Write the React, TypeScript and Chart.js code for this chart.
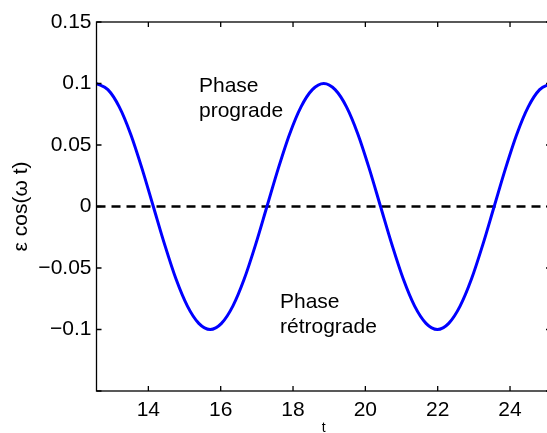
import React, { useEffect, useRef } from "react";
import { Chart, registerables } from "chart.js";

Chart.register(...registerables);

// time samples (t) and values of ε cos(ω t)
const tValues = [
  12.566, 12.881, 13.195, 13.509, 13.823, 14.137, 14.451, 14.765, 15.08, 15.394,
  15.708, 16.022, 16.336, 16.65, 16.965, 17.279, 17.593, 17.907, 18.221, 18.535,
  18.85, 19.164, 19.478, 19.792, 20.106, 20.42, 20.735, 21.049, 21.363, 21.677,
  21.991, 22.305, 22.619, 22.934, 23.248, 23.562, 23.876, 24.19, 24.504, 24.819,
  25.133,
];
const yValues = [
  0.1, 0.095, 0.081, 0.059, 0.031, 0, -0.031, -0.059, -0.081, -0.095,
  -0.1, -0.095, -0.081, -0.059, -0.031, 0, 0.031, 0.059, 0.081, 0.095,
  0.1, 0.095, 0.081, 0.059, 0.031, 0, -0.031, -0.059, -0.081, -0.095,
  -0.1, -0.095, -0.081, -0.059, -0.031, 0, 0.031, 0.059, 0.081, 0.095,
  0.1,
];
const zeroLineT = [12.566, 25.133];
const zeroLineY = [0, 0];
const xTicks = [14, 16, 18, 20, 22, 24];
const yTicks = [-0.15, -0.1, -0.05, 0, 0.05, 0.1, 0.15];
const yTickLabels = ["", "−0.1", "−0.05", "0", "0.05", "0.1", "0.15"];

const annotationLines = [
  ["Phase", "prograde"],
  ["Phase", "rétrograde"],
];
const annotationAnchors = [
  { t: 15.4, y: 0.0927 },
  { t: 17.64, y: -0.0825 },
];

const FONT = "'Liberation Sans', Arial, Helvetica, sans-serif";

export default function App() {
  const ref = useRef<HTMLCanvasElement | null>(null);

  useEffect(() => {
    const canvas = ref.current;
    if (!canvas) return;

    const framePlugin = {
      id: "frame",
      afterDatasetsDraw(chart: any) {
        const { ctx, chartArea } = chart;
        const { left, right, top, bottom } = chartArea;
        const xs = chart.scales.x;
        const ys = chart.scales.y;
        ctx.save();
        ctx.strokeStyle = "#000";
        ctx.lineWidth = 1.3;
        ctx.strokeRect(left, top, right - left, bottom - top);
        const tl = 5;
        ctx.beginPath();
        xTicks.forEach((v) => {
          const px = xs.getPixelForValue(v);
          ctx.moveTo(px, bottom);
          ctx.lineTo(px, bottom - tl);
          ctx.moveTo(px, top);
          ctx.lineTo(px, top + tl);
        });
        yTicks.forEach((v) => {
          const py = ys.getPixelForValue(v);
          ctx.moveTo(left, py);
          ctx.lineTo(left + tl, py);
          ctx.moveTo(right, py);
          ctx.lineTo(right - tl, py);
        });
        ctx.stroke();

        // annotations
        ctx.fillStyle = "#000";
        ctx.font = `21px ${FONT}`;
        ctx.textAlign = "left";
        ctx.textBaseline = "alphabetic";
        annotationLines.forEach((lines, i) => {
          const a = annotationAnchors[i];
          const px = xs.getPixelForValue(a.t);
          const py = ys.getPixelForValue(a.y);
          lines.forEach((s, j) => ctx.fillText(s, px, py + j * 25));
        });
        ctx.restore();
      },
    };

    const chart = new Chart(canvas, {
      type: "line",
      data: {
        datasets: [
          {
            data: tValues.map((t, i) => ({ x: t, y: yValues[i] })),
            borderColor: "#0000ff",
            borderWidth: 3,
            pointRadius: 0,
            cubicInterpolationMode: "monotone",
            fill: false,
            order: 0,
          },
          {
            data: zeroLineT.map((t, i) => ({ x: t, y: zeroLineY[i] })),
            borderColor: "#000",
            borderWidth: 2.5,
            borderDash: [9, 6],
            pointRadius: 0,
            fill: false,
            order: 1,
          },
        ],
      },
      options: {
        responsive: false,
        animation: false,
        devicePixelRatio: 1,
        layout: { padding: { top: 22, right: 9, left: 0, bottom: 0 } },
        plugins: {
          legend: { display: false },
          tooltip: { enabled: false },
        },
        scales: {
          x: {
            type: "linear",
            min: 12.566,
            max: 25.133,
            grid: { display: false, drawTicks: false },
            border: { display: false },
            afterBuildTicks: (s: any) => {
              s.ticks = xTicks.map((v) => ({ value: v }));
            },
            afterFit: (s: any) => {
              s.height = 42;
            },
            ticks: {
              color: "#000",
              padding: 7,
              font: { family: FONT, size: 21 },
              maxRotation: 0,
              callback: (v: any) => String(v),
            },
            title: {
              display: true,
              text: "t",
              color: "#000",
              font: { family: FONT, size: 14 },
              padding: { top: 0, bottom: -4 },
            },
          },
          y: {
            type: "linear",
            min: -0.15,
            max: 0.15,
            grid: { display: false, drawTicks: false },
            border: { display: false },
            afterBuildTicks: (s: any) => {
              s.ticks = yTicks.map((v) => ({ value: v }));
            },
            afterFit: (s: any) => {
              s.width = 96.5;
            },
            ticks: {
              color: "#000",
              padding: 5,
              font: { family: FONT, size: 21 },
              callback: (v: any) => {
                const i = yTicks.findIndex((t) => Math.abs(t - Number(v)) < 1e-9);
                return i >= 0 ? yTickLabels[i] : "";
              },
            },
            title: {
              display: true,
              text: "ε cos(ω t)",
              color: "#000",
              font: { family: FONT, size: 21 },
              padding: { top: 9, bottom: 0 },
            },
          },
        },
      },
      plugins: [framePlugin],
    } as any);

    return () => chart.destroy();
  }, []);

  return (
    <div
      style={{
        position: "absolute",
        left: 0,
        top: 0,
        width: 547,
        height: 433,
        overflow: "hidden",
        background: "#fff",
      }}
    >
      <canvas ref={ref} width={560} height={433} style={{ width: 560, height: 433, display: "block" }} />
    </div>
  );
}
